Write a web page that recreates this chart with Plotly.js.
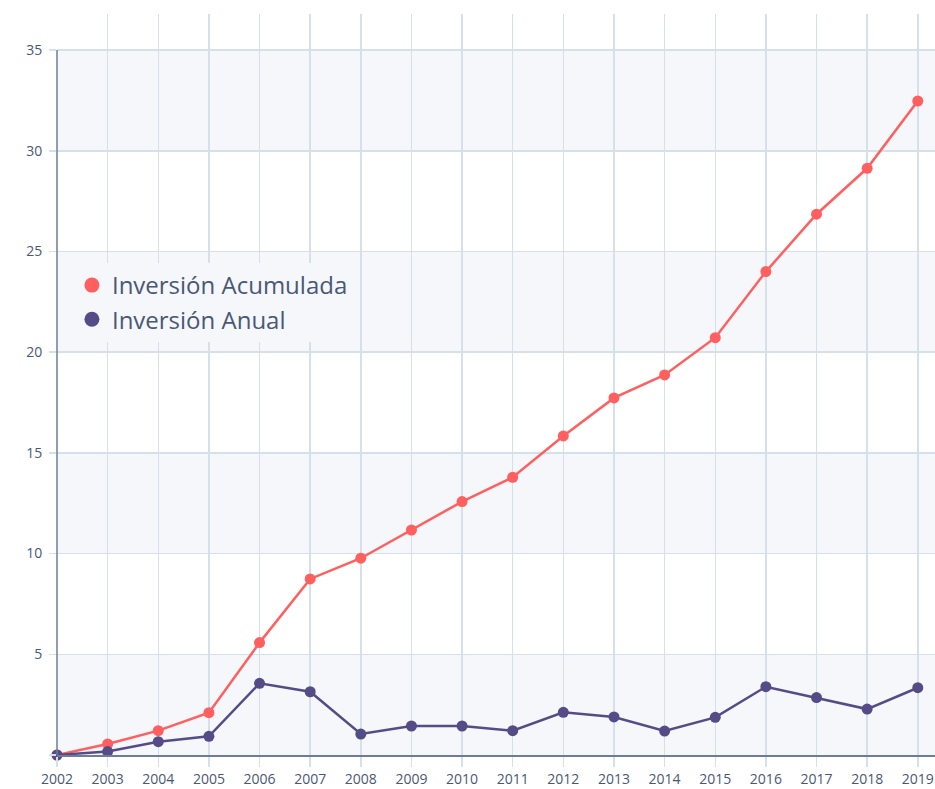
<!DOCTYPE html>
<html>
<head>
<meta charset="utf-8">
<script src="https://cdn.plot.ly/plotly-3.0.1.min.js"></script>
<style>html,body{margin:0;padding:0;background:#fff;}#chart{width:935px;height:789px;}</style>
</head>
<body>
<div id="chart"></div>
<script>
var years = [2002,2003,2004,2005,2006,2007,2008,2009,2010,2011,2012,2013,2014,2015,2016,2017,2018,2019];
var acumulada = [0,0.55,1.21,2.1,5.58,8.74,9.77,11.17,12.58,13.79,15.84,17.73,18.87,20.72,24.0,26.85,29.13,32.47];
var anual = [0,0.17,0.66,0.93,3.56,3.14,1.04,1.44,1.44,1.21,2.12,1.89,1.19,1.87,3.39,2.85,2.28,3.34];
var yTicks = [0,5,10,15,20,25,30,35];
var yTickText = ['','5','10','15','20','25','30','35'];
var seriesNames = ['Inversión Acumulada','Inversión Anual'];
var seriesColors = ['#ff5f5f','#554b87'];

var textColor = '#4a5877';
var gridColor = '#d6e0eb';
var bandColor = '#f5f7fb';
var axisColor = '#6d7d96';
var fontFam = '"Open Sans", "Noto Sans", sans-serif';

var shapes = [];
for (var i = 0; i < yTicks.length - 1; i += 2) {
  shapes.push({type:'rect', xref:'paper', yref:'y', x0:0, x1:1, y0:yTicks[i], y1:yTicks[i+1],
    fillcolor:bandColor, line:{width:0}, layer:'below'});
}
shapes.push({type:'line', xref:'paper', yref:'y', x0:0, x1:0, y0:yTicks[0], y1:yTicks[yTicks.length-1],
  line:{color:axisColor, width:1.5}, layer:'above'});

var series = [acumulada, anual];
var traces = [];
series.forEach(function(vals, k){
  traces.push({x:years, y:vals, name:seriesNames[k], type:'scatter', mode:'lines+markers', showlegend:false,
    line:{color:seriesColors[k], width:2.5}, marker:{color:seriesColors[k], size:11}, cliponaxis:false});
});
series.forEach(function(vals, k){
  traces.push({x:[null], y:[null], name:seriesNames[k], type:'scatter', mode:'markers', showlegend:true,
    marker:{color:seriesColors[k], size:15}});
});

var layout = {
  width:935, height:789,
  margin:{l:57, r:0, t:14, b:34},
  paper_bgcolor:'#ffffff', plot_bgcolor:'#ffffff',
  font:{family:fontFam, color:textColor, size:14},
  showlegend:true,
  legend:{x:0.017, y:0.664, xanchor:'left', yanchor:'top', bgcolor:bandColor,
    font:{size:24, color:textColor, family:fontFam}, tracegroupgap:0},
  xaxis:{range:[2002, 2019.34], tickvals:years, ticktext:years.map(String), showgrid:true, gridcolor:gridColor, gridwidth:1.5,
    zeroline:false, showline:true, linecolor:axisColor, linewidth:1.5, ticks:'outside', ticklen:10, tickcolor:gridColor, tickwidth:1.5,
    ticklabelstandoff:1, tickfont:{size:14, color:textColor}, fixedrange:true},
  yaxis:{range:[0, 36.79], tickvals:yTicks, ticktext:yTickText, showgrid:true, gridcolor:gridColor, gridwidth:1.5,
    zeroline:false, showline:false, ticks:'outside', ticklen:7, tickcolor:gridColor, tickwidth:1.5,
    ticklabelstandoff:4, tickfont:{size:14, color:textColor}, fixedrange:true},
  shapes:shapes
};

Plotly.newPlot('chart', traces, layout, {displayModeBar:false, staticPlot:true});
</script>
</body>
</html>
